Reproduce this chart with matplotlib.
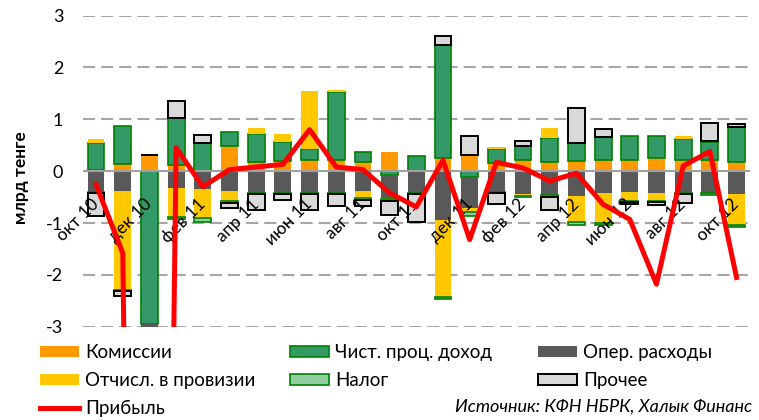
import numpy as np
import matplotlib
matplotlib.use('Agg')
import matplotlib.pyplot as plt
import matplotlib.transforms as mtransforms
from matplotlib.patches import Patch
from matplotlib.lines import Line2D

plt.rcParams['font.family'] = ['Lato', 'DejaVu Sans']

# months Oct 2010 .. Oct 2012, bln tenge
months = ['окт 10', 'ноя 10', 'дек 10', 'янв 11', 'фев 11', 'мар 11', 'апр 11', 'май 11',
          'июн 11', 'июл 11', 'авг 11', 'сен 11', 'окт 11', 'ноя 11', 'дек 11', 'янв 12',
          'фев 12', 'мар 12', 'апр 12', 'май 12', 'июн 12', 'июл 12', 'авг 12', 'сен 12', 'окт 12']

komissii = [0.02, 0.14, 0.31, 0.11, 0.0, 0.48, 0.17, 0.19, 0.22, 0.22, 0.17, 0.37, 0.0,
            0.26, 0.32, 0.16, 0.21, 0.17, 0.19, 0.22, 0.22, 0.26, 0.22, 0.21, 0.17]
chist_proc = [0.53, 0.73, -2.95, 0.92, 0.54, 0.27, 0.55, 0.37, 0.20, 1.30, 0.20, -0.08, 0.30,
              2.18, -0.11, 0.26, 0.27, 0.47, 0.35, 0.44, 0.45, 0.41, 0.40, 0.35, 0.68]
oper_rash = [-0.40, -0.38, -0.45, -0.32, -0.35, -0.38, -0.42, -0.42, -0.42, -0.42, -0.38, -0.43, -0.43,
             -0.95, -0.60, -0.40, -0.44, -0.46, -0.48, -0.42, -0.40, -0.42, -0.43, -0.43, -0.45]
provizii = [0.07, -1.91, -35.0, -0.56, -0.55, -0.20, 0.11, 0.16, 1.12, 0.05, -0.13, -0.03, 0.0,
            -1.47, -0.08, 0.04, -0.03, 0.19, -0.50, -0.57, -0.18, -0.16, 0.05, 0.03, -0.59]
nalog = [-0.02, -0.02, 0.0, -0.04, -0.08, -0.04, -0.02, -0.02, -0.02, -0.02, -0.05, -0.04, -0.02,
         -0.05, -0.08, -0.02, -0.02, -0.03, -0.05, -0.04, -0.02, -0.02, -0.02, -0.03, -0.04]
prochee = [-0.45, -0.10, 0.0, 0.32, 0.16, -0.09, -0.30, -0.12, -0.30, -0.23, -0.11, -0.27, -0.53,
           0.17, 0.35, -0.22, 0.10, -0.25, 0.68, 0.15, -0.03, -0.05, -0.17, 0.33, 0.05]
pribyl = [-0.26, -1.58, -40.0, 0.45, -0.30, 0.03, 0.08, 0.13, 0.80, 0.08, 0.03, -0.42, -0.69,
          0.21, -1.32, 0.17, 0.06, -0.19, -0.04, -0.64, -0.93, -2.18, 0.10, 0.38, -2.05]

yticks = [3, 2, 1, 0, -1, -2, -3]

# (values, label, face, edge, edge width)
series = [
    (komissii, 'Комиссии', '#FF9900', 'none', 0),
    (chist_proc, 'Чист. проц. доход', '#339966', '#008000', 1.2),
    (oper_rash, 'Опер. расходы', '#595959', 'none', 0),
    (provizii, 'Отчисл. в провизии', '#FFC800', 'none', 0),
    (nalog, 'Налог', '#8FCCA0', '#008000', 1.2),
    (prochee, 'Прочее', '#D9D9D9', '#000000', 1.4),
]

fig = plt.figure(figsize=(7.59, 4.2), dpi=100)
ax = fig.add_axes([0.109, 0.222, 0.879, 0.741])

x = np.arange(len(months))
pos_base = np.zeros(len(x))
neg_base = np.zeros(len(x))
for vals, label, fc, ec, lw in series:
    v = np.array(vals)
    bottom = np.where(v >= 0, pos_base, neg_base)
    ax.bar(x, v, 0.63, bottom=bottom, color=fc, edgecolor=ec, linewidth=lw, zorder=2)
    pos_base += np.clip(v, 0, None)
    neg_base += np.clip(v, None, 0)

ax.plot(x, pribyl, color='#FF0000', lw=3.6, zorder=4, solid_joinstyle='round')

ax.set_xlim(-0.5, len(x) - 0.5)
ax.set_ylim(-3, 3)
ax.set_yticks(yticks)
ax.set_yticklabels([str(t) for t in yticks])
for t in yticks:
    if t != 0:
        ax.axhline(t, ls=(0, (5.8, 2.9)), color='#A6A6A6', lw=1.5, zorder=0.5)
ax.axhline(0, color='#A0A0A0', lw=1.5, zorder=2.2)
ax.set_axisbelow(False)  # month labels sit on top of the bars

for s in ax.spines.values():
    s.set_visible(False)
ax.spines['bottom'].set_position(('data', 0))

ax.set_xticks(x[::2])
ax.set_xticklabels(months[::2], rotation=45, ha='right', rotation_mode='anchor', fontsize=12.5)
ax.tick_params(axis='x', length=0, pad=18)
ax.tick_params(axis='y', length=0, pad=14, labelsize=13)
shift = mtransforms.ScaledTranslation(-4 / 72, 0, fig.dpi_scale_trans)
for lbl in ax.get_xticklabels():
    lbl.set_transform(lbl.get_transform() + shift)

ax.set_ylabel('млрд тенге', fontsize=12.5, fontweight='bold')
ax.yaxis.set_label_coords(-0.08, 0.478)

h = {lab: Patch(facecolor=fc, edgecolor=ec if ec != 'none' else fc, linewidth=lw if lw else 0)
     for _, lab, fc, ec, lw in series}
prof_h = Line2D([], [], color='#FF0000', lw=3.6)

# legend: three evenly spaced columns as in the source
columns = [
    ([h['Комиссии'], h['Отчисл. в провизии'], prof_h], ['Комиссии', 'Отчисл. в провизии', 'Прибыль'], 40),
    ([h['Чист. проц. доход'], h['Налог']], ['Чист. проц. доход', 'Налог'], 290),
    ([h['Опер. расходы'], h['Прочее']], ['Опер. расходы', 'Прочее'], 538),
]
for hs, labs, px in columns:
    fig.legend(hs, labs, loc='upper left', bbox_to_anchor=(px / 759, 1 - 344 / 420),
               frameon=False, fontsize=13.5, handlelength=2.1, handleheight=0.55,
               handletextpad=0.3, labelspacing=0.58, borderpad=0, borderaxespad=0)

fig.text(0.991, 0.012, 'Источник: КФН НБРК, Халык Финанс', ha='right', va='bottom',
         fontsize=13, style='italic')

fig.savefig('out.png', dpi=100)
